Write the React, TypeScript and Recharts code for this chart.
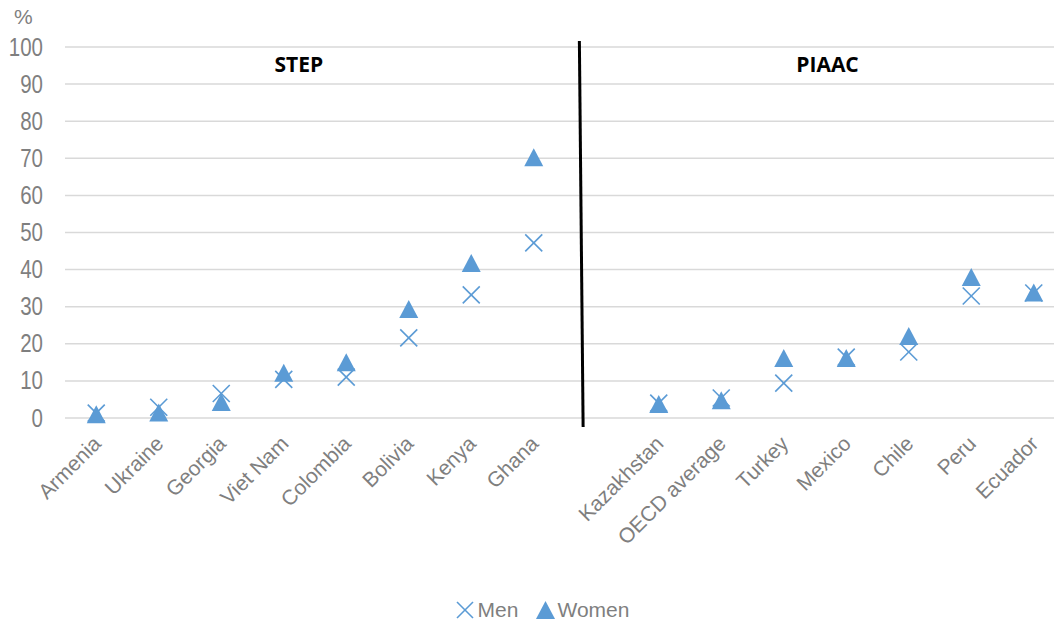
import React from 'react';
import { ScatterChart, Scatter, XAxis, YAxis, CartesianGrid, ReferenceLine, ReferenceDot, Legend } from 'recharts';

const stepCountries = ['Armenia', 'Ukraine', 'Georgia', 'Viet Nam', 'Colombia', 'Bolivia', 'Kenya', 'Ghana'];
const stepMen = [1.3, 2.9, 6.6, 10.4, 11.0, 21.6, 33.2, 47.2];
const stepWomen = [1.0, 1.5, 4.3, 12.2, 15.0, 29.4, 41.8, 70.3];

const piaacCountries = ['Kazakhstan', 'OECD average', 'Turkey', 'Mexico', 'Chile', 'Peru', 'Ecuador'];
const piaacMen = [4.0, 5.4, 9.4, 16.4, 17.8, 32.9, 33.7];
const piaacWomen = [3.8, 4.8, 16.2, 16.2, 22.1, 38.0, 33.8];

const yTicks = [0, 10, 20, 30, 40, 50, 60, 70, 80, 90, 100];

const COLOR = '#5B9BD5';
const GRAY = '#7f7f7f';
const FONT = "'Liberation Sans', Arial, sans-serif";

// category slots: STEP at 0..7, gap at 8, PIAAC at 9..15
const piaacOffset = stepCountries.length + 1;
const labels: Record<number, string> = {};
stepCountries.forEach((c, i) => (labels[i] = c));
piaacCountries.forEach((c, i) => (labels[i + piaacOffset] = c));
const xTicks = Object.keys(labels).map(Number);

const menData = [
  ...stepMen.map((v, i) => ({ x: i, y: v })),
  ...piaacMen.map((v, i) => ({ x: i + piaacOffset, y: v })),
];
const womenData = [
  ...stepWomen.map((v, i) => ({ x: i, y: v })),
  ...piaacWomen.map((v, i) => ({ x: i + piaacOffset, y: v })),
];

const Cross = (props: any) => {
  const { cx, cy } = props;
  const s = 8.5;
  return (
    <g>
      <line x1={cx - s} y1={cy - s} x2={cx + s} y2={cy + s} stroke={COLOR} strokeWidth={1.6} />
      <line x1={cx - s} y1={cy + s} x2={cx + s} y2={cy - s} stroke={COLOR} strokeWidth={1.6} />
    </g>
  );
};

const Tri = (props: any) => {
  const { cx, cy } = props;
  const w = 9.5;
  const h = 9;
  return <path d={`M${cx},${cy - h} L${cx + w},${cy + h} L${cx - w},${cy + h} Z`} fill={COLOR} />;
};

const XTick = (props: any) => {
  const { x, y, payload } = props;
  return (
    <text
      x={x + 6}
      y={y + 19}
      textAnchor="end"
      transform={`rotate(-45, ${x + 6}, ${y + 19})`}
      fill={GRAY}
      fontSize={21}
      fontFamily={FONT}
    >
      {labels[payload.value]}
    </text>
  );
};

const YTick = (props: any) => {
  const { x, y, payload } = props;
  return (
    <g transform={`translate(${x},${y}) scale(0.82,1)`}>
      <text x={0} y={0} dy={8.5} textAnchor="end" fill={GRAY} fontSize={25} fontFamily={FONT}>
        {payload.value}
      </text>
    </g>
  );
};

const LegendContent = () => (
  <div
    style={{
      display: 'flex',
      justifyContent: 'center',
      alignItems: 'center',
      height: 40,
      fontFamily: FONT,
      fontSize: 21,
      color: GRAY,
      paddingLeft: 20,
    }}
  >
    <svg width={18} height={18} style={{ marginRight: 4 }}>
      <line x1={1} y1={1} x2={17} y2={17} stroke={COLOR} strokeWidth={1.6} />
      <line x1={1} y1={17} x2={17} y2={1} stroke={COLOR} strokeWidth={1.6} />
    </svg>
    <span style={{ marginRight: 18 }}>Men</span>
    <svg width={19} height={18} style={{ marginRight: 2 }}>
      <path d="M9.5,0 L19,18 L0,18 Z" fill={COLOR} />
    </svg>
    <span>Women</span>
  </div>
);

export default function App() {
  return (
    <div style={{ position: 'fixed', left: 0, top: 0, width: 1054, height: 626, overflow: 'hidden', background: '#fff' }}>
      <div
        style={{
          position: 'absolute',
          left: 14,
          top: 5,
          fontFamily: FONT,
          fontSize: 21,
          color: GRAY,
        }}
      >
        %
      </div>
      <ScatterChart width={1066} height={626} margin={{ top: 47, right: 1, bottom: 0, left: 0 }}>
        <CartesianGrid horizontal vertical={false} stroke="#d9d9d9" strokeWidth={1.5} />
        <XAxis
          type="number"
          dataKey="x"
          domain={[-0.5, 15.5]}
          ticks={xTicks}
          interval={0}
          axisLine={false}
          tickLine={false}
          tick={<XTick />}
          height={172}
        />
        <YAxis
          type="number"
          dataKey="y"
          domain={[0, 100]}
          ticks={yTicks}
          interval={0}
          axisLine={false}
          tickLine={false}
          tickSize={0}
          tickMargin={22}
          width={65}
          tick={<YTick />}
        />
        <ReferenceLine
          segment={[{ x: 7.73, y: 101.6 }, { x: 7.79, y: -2.4 }]}
          stroke="#000"
          strokeWidth={3}
          ifOverflow="visible"
        />
        <ReferenceDot
          x={3.24}
          y={95.4}
          r={1}
          fill="none"
          stroke="none"
          ifOverflow="visible"
          label={{ value: 'STEP', position: 'center', fill: '#000', fontSize: 21, fontWeight: 700, fontFamily: "'Open Sans', sans-serif" }}
        />
        <ReferenceDot
          x={11.7}
          y={95.4}
          r={1}
          fill="none"
          stroke="none"
          ifOverflow="visible"
          label={{ value: 'PIAAC', position: 'center', fill: '#000', fontSize: 21, fontWeight: 700, fontFamily: "'Open Sans', sans-serif" }}
        />
        <Scatter name="Men" data={menData} shape={<Cross />} isAnimationActive={false} />
        <Scatter name="Women" data={womenData} shape={<Tri />} isAnimationActive={false} />
        <Legend verticalAlign="bottom" height={36} content={<LegendContent />} />
      </ScatterChart>
    </div>
  );
}
